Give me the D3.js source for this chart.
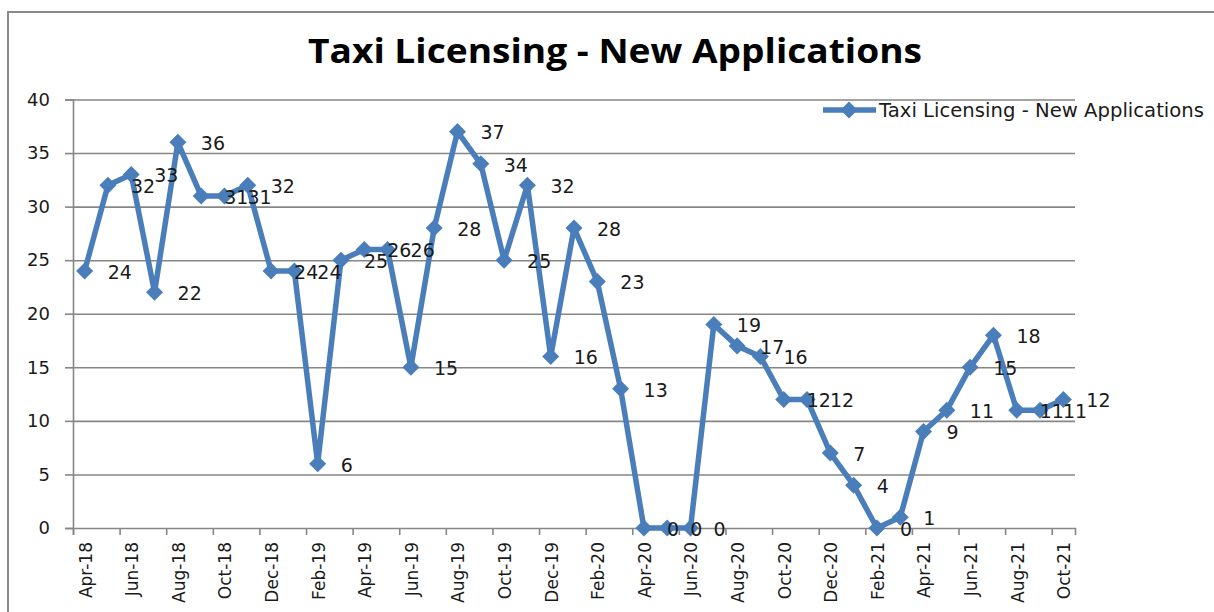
<!DOCTYPE html>
<html>
<head>
<meta charset="utf-8">
<script src="https://cdn.jsdelivr.net/npm/d3@7"></script>
<style>
  body { margin: 0; background: #fff; }
  svg text { font-family: "DejaVu Sans", sans-serif; fill: #1a1a1a; }
</style>
</head>
<body>
<svg id="chart" width="1214" height="612"></svg>
<script>
// month categories, Apr-18 .. Oct-21
const months = [
    'Apr-18', 'May-18', 'Jun-18', 'Jul-18', 'Aug-18', 'Sep-18', 'Oct-18', 'Nov-18', 'Dec-18',
    'Jan-19', 'Feb-19', 'Mar-19', 'Apr-19', 'May-19', 'Jun-19', 'Jul-19', 'Aug-19', 'Sep-19',
    'Oct-19', 'Nov-19', 'Dec-19', 'Jan-20', 'Feb-20', 'Mar-20', 'Apr-20', 'May-20', 'Jun-20',
    'Jul-20', 'Aug-20', 'Sep-20', 'Oct-20', 'Nov-20', 'Dec-20', 'Jan-21', 'Feb-21', 'Mar-21',
    'Apr-21', 'May-21', 'Jun-21', 'Jul-21', 'Aug-21', 'Sep-21', 'Oct-21'
];
const applications = [
    24, 32, 33, 22, 36, 31, 31, 32, 24,
    24, 6, 25, 26, 26, 15, 28, 37, 34,
    25, 32, 16, 28, 23, 13, 0, 0, 0,
    19, 17, 16, 12, 12, 7, 4, 0, 1,
    9, 11, 15, 18, 11, 11, 12
];
const yTicks = [0, 5, 10, 15, 20, 25, 30, 35, 40];
const seriesName = 'Taxi Licensing - New Applications';
const chartTitle = 'Taxi Licensing - New Applications';

const LINE_COLOR = '#4a7ebb';
const GRID_COLOR = '#868686';

const PLOT_LEFT = 73, PLOT_RIGHT = 1075, PLOT_TOP = 99.5, PLOT_BOTTOM = 528;

const svg = d3.select('#chart');

// outer chart border (runs off the right and bottom)
svg.append('path')
    .attr('d', 'M8,620 L8,12 L1220,12')
    .attr('fill', 'none')
    .attr('stroke', '#8a8a8a')
    .attr('stroke-width', 2);

// title
svg.append('text')
    .attr('x', 615)
    .attr('y', 63)
    .attr('text-anchor', 'middle')
    .attr('textLength', 614)
    .attr('lengthAdjust', 'spacingAndGlyphs')
    .style('font-family', '"Open Sans", sans-serif')
    .style('font-weight', 700)
    .style('font-size', '34px')
    .style('fill', '#000')
    .text(chartTitle);

let x = d3.scaleBand()
    .domain(months)
    .range([PLOT_LEFT, PLOT_RIGHT])
    .padding(0);

let xEdge = d3.scaleLinear()
    .domain([0, months.length])
    .range([PLOT_LEFT, PLOT_RIGHT]);

let y = d3.scaleLinear()
    .domain([0, 40])
    .range([PLOT_BOTTOM, PLOT_TOP]);

// gridlines
let grid = svg.append('g')
    .attr('transform', 'translate(' + PLOT_LEFT + ',0)')
    .call(d3.axisLeft(y).tickValues(yTicks.slice(1)).tickSize(-(PLOT_RIGHT - PLOT_LEFT)).tickFormat(''));
grid.select('.domain').remove();
grid.selectAll('line').attr('stroke', GRID_COLOR).attr('stroke-width', 1.6);

// y axis
let yAxis = svg.append('g')
    .attr('transform', 'translate(' + PLOT_LEFT + ',0)')
    .call(d3.axisLeft(y).tickValues(yTicks).tickSize(8).tickPadding(15));
yAxis.select('.domain').attr('stroke', GRID_COLOR).attr('stroke-width', 1.6);
yAxis.selectAll('line').attr('stroke', GRID_COLOR).attr('stroke-width', 1.6);
yAxis.selectAll('text')
    .style('font-size', '18px')
    .style('font-family', '"DejaVu Sans", sans-serif')
    .attr('fill', '#1a1a1a');

// x axis: ticks at category boundaries, every second month
let edgeTicks = d3.range(0, months.length, 2);
let xAxis = svg.append('g')
    .attr('transform', 'translate(0,' + PLOT_BOTTOM + ')')
    .call(d3.axisBottom(xEdge).tickValues(edgeTicks).tickSize(7).tickFormat(''));
xAxis.select('.domain').attr('stroke', GRID_COLOR).attr('stroke-width', 1.6);
xAxis.selectAll('line').attr('stroke', GRID_COLOR).attr('stroke-width', 1.6);

// x labels, rotated, on the category centres
let labelMonths = months.filter(function (m, i) { return i % 2 === 0; });
let xLabels = svg.append('g')
    .attr('transform', 'translate(0,' + PLOT_BOTTOM + ')')
    .call(d3.axisBottom(x).tickValues(labelMonths).tickSize(0).tickPadding(0));
xLabels.select('.domain').remove();
xLabels.selectAll('text')
    .attr('transform', 'translate(1,14) rotate(-90)')
    .attr('x', 0)
    .attr('y', 0)
    .attr('dy', '0.35em')
    .attr('text-anchor', 'end')
    .style('font-size', '17px')
    .style('font-family', '"DejaVu Sans", sans-serif')
    .attr('fill', '#1a1a1a');

let cx = function (d, i) { return x(months[i]) + x.bandwidth() / 2; };

// line
let line = d3.line()
    .x(cx)
    .y(function (d) { return y(d); })
    .curve(d3.curveLinear);

svg.append('path')
    .datum(applications)
    .attr('d', line)
    .attr('fill', 'none')
    .attr('stroke', LINE_COLOR)
    .attr('stroke-width', 5.5)
    .attr('stroke-linejoin', 'round');

// diamond markers
let diamond = d3.symbol().type(d3.symbolSquare).size(145);
svg.append('g').selectAll('path')
    .data(applications)
    .enter().append('path')
    .attr('d', diamond)
    .attr('transform', function (d, i) {
        return 'translate(' + cx(d, i) + ',' + y(d) + ') rotate(45)';
    })
    .attr('fill', LINE_COLOR);

// data labels on the right of each point
svg.append('g').selectAll('text')
    .data(applications)
    .enter().append('text')
    .attr('x', function (d, i) { return cx(d, i) + 23; })
    .attr('y', function (d) { return y(d) + 1; })
    .attr('dy', '0.36em')
    .style('font-size', '19px')
    .text(function (d) { return d; });

// legend
let legend = svg.append('g');
legend.append('line')
    .attr('x1', 823).attr('x2', 876)
    .attr('y1', 110).attr('y2', 110)
    .attr('stroke', LINE_COLOR)
    .attr('stroke-width', 5.5);
legend.append('path')
    .attr('d', diamond)
    .attr('transform', 'translate(849,110) rotate(45)')
    .attr('fill', LINE_COLOR);
legend.append('text')
    .attr('x', 879)
    .attr('y', 110)
    .attr('dy', '0.36em')
    .attr('textLength', 325)
    .attr('lengthAdjust', 'spacingAndGlyphs')
    .style('font-size', '19px')
    .text(seriesName);
</script>
</body>
</html>
